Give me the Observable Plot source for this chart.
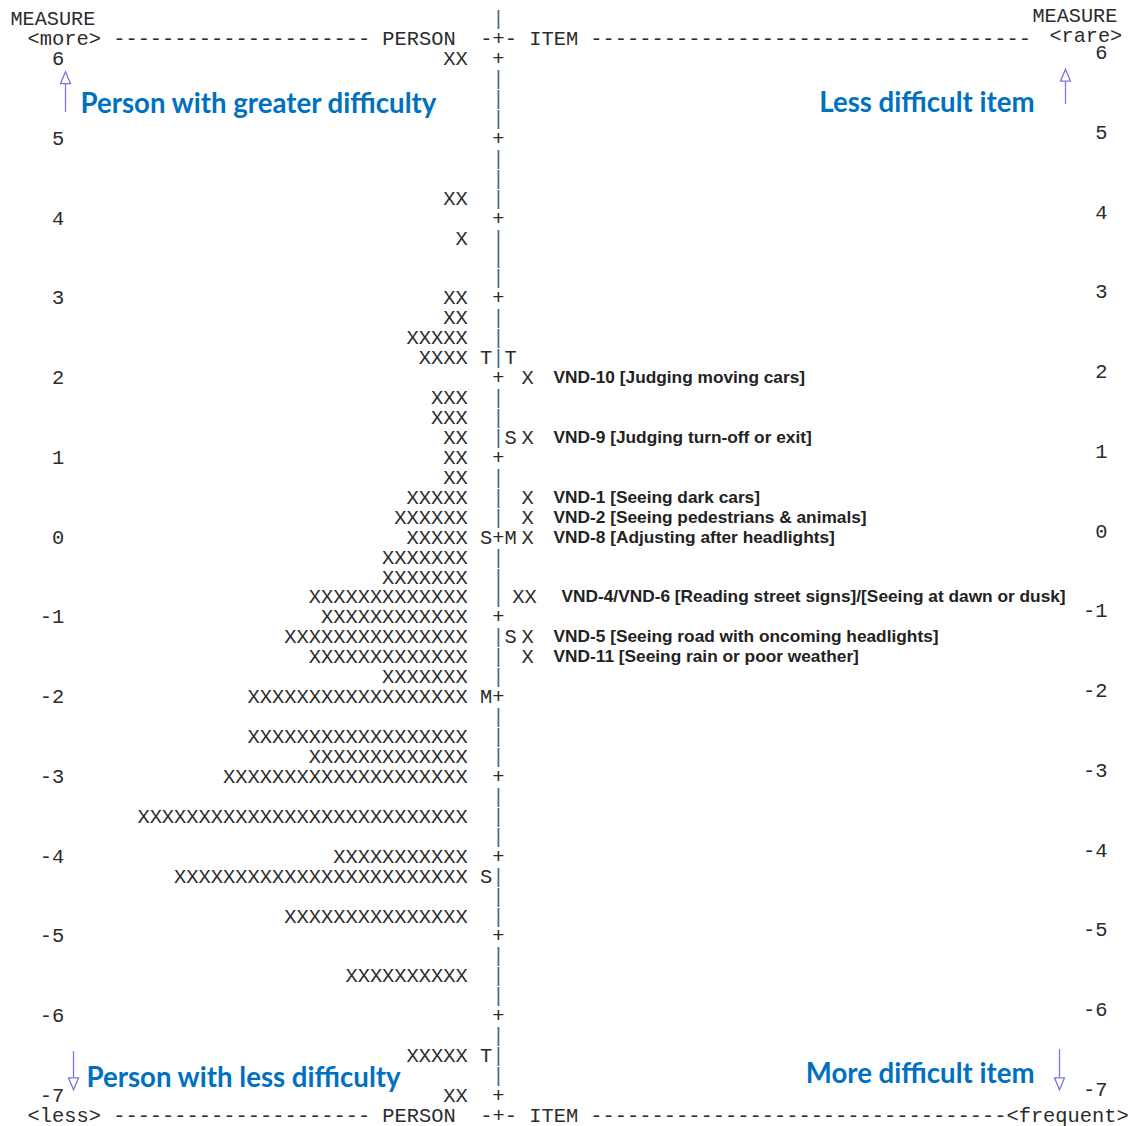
<!DOCTYPE html>
<html>
<head>
<meta charset="utf-8">
<script src="https://cdn.jsdelivr.net/npm/d3@7"></script>
<script src="https://cdn.jsdelivr.net/npm/@observablehq/plot@0.6"></script>
<style>
  body { margin: 0; background: #fff; }
</style>
</head>
<body>
<div id="chart"></div>
<script>
// Person distribution: measure (logits) of each row and number of persons (X) on it
const personMeasure = [6, 4.25, 3.75, 3, 2.75, 2.5, 2.25, 1.75, 1.5, 1.25, 1, 0.75, 0.5, 0.25, 0,
  -0.25, -0.5, -0.75, -1, -1.25, -1.5, -1.75, -2, -2.5, -2.75, -3, -3.5, -4, -4.25, -4.75, -5.5, -6.5, -7];
const personCount = [2, 2, 1, 2, 2, 5, 4, 3, 3, 2, 2, 2, 5, 6, 5,
  7, 7, 13, 12, 15, 13, 7, 18, 18, 13, 20, 27, 11, 24, 15, 10, 5, 2];

// Item difficulties
const itemMeasure = [2, 1.25, 0.5, 0.25, 0, -0.75, -1.25, -1.5];
const itemCount = [1, 1, 1, 1, 1, 2, 1, 1];
const itemLabel = [
  "VND-10 [Judging moving cars]",
  "VND-9 [Judging turn-off or exit]",
  "VND-1 [Seeing dark cars]",
  "VND-2 [Seeing pedestrians & animals]",
  "VND-8 [Adjusting after headlights]",
  "VND-4/VND-6 [Reading street signs]/[Seeing at dawn or dusk]",
  "VND-5 [Seeing road with oncoming headlights]",
  "VND-11 [Seeing rain or poor weather]"
];

// Mean (M), one (S) and two (T) standard deviation markers
const personStatMeasure = [2.25, 0, -2, -4.25, -6.5];
const personStatLabel = ["T", "S", "M", "S", "T"];
const itemStatMeasure = [2.25, 1.25, 0, -1.25];
const itemStatLabel = ["T", "S", "M", "S"];

// Measure tick labels
const tickValues = [6, 5, 4, 3, 2, 1, 0, -1, -2, -3, -4, -5, -6, -7];

const persons = personMeasure.map((m, i) => ({measure: m, n: personCount[i]}));
const items = itemMeasure.map((m, i) => ({measure: m, n: itemCount[i], label: itemLabel[i]}));
const personStats = personStatMeasure.map((m, i) => ({measure: m, label: personStatLabel[i]}));
const itemStats = itemStatMeasure.map((m, i) => ({measure: m, label: itemStatLabel[i]}));

// Text rows of the map from -7 to 6, a quarter logit apart; "+" on whole logits
const rows = d3.range(-28, 25).map(k => k / 4);

const MONO = "Liberation Mono, DejaVu Sans Mono, monospace";
const INK = "#2b2b2b";
const LINE = "#4a6a90";
const BLUE = "#0070C0";
const ARROW = "#7878dc";
const COL = 12.23;              // width of one monospace column
const X0 = 27;                  // left edge of column 0
const col = c => X0 + c * COL;  // left edge of a column
const axisX = col(38) + COL / 2;

// converts a vertical page position into the measure scale (for annotations)
const rowAt = p => 6 - (p - 58) / 80;

const headerLine = "<more> " + "-".repeat(21) + " PERSON  -+- ITEM " + "-".repeat(36);
const footerLine = "<less> " + "-".repeat(21) + " PERSON  -+- ITEM " + "-".repeat(34) + "<frequent>";

// narrow open triangle for arrow heads
const head = {
  draw(ctx, size) {
    const r = Math.sqrt(size / Math.PI);
    ctx.moveTo(0, -r * 1.4);
    ctx.lineTo(r, r);
    ctx.lineTo(-r, r);
    ctx.closePath();
  }
};

const arrows = [
  {x: 65, tip: 70, base: 84, end: 112, down: false},
  {x: 1065, tip: 68, base: 81, end: 104, down: false},
  {x: 73, tip: 1093, base: 1080, end: 1054, down: true},
  {x: 1059, tip: 1093, base: 1080, end: 1052, down: true}
];

const notesLeft = [
  {text: "Person with greater difficulty", x: 80, y: 104},
  {text: "Person with less difficulty", x: 86, y: 1081}
];
const notesRight = [
  {text: "Less difficult item", x: 1034, y: 103},
  {text: "More difficult item", x: 1034, y: 1077}
];

const noteStyle = {fontFamily: "Lato, Open Sans, sans-serif", fontWeight: "bold", fontSize: 27.6, fill: BLUE};
const mono = {fontFamily: MONO, fontSize: 20.4, fill: INK};

const chart = Plot.plot({
  width: 1135,
  height: 1126,
  marginTop: 58,
  marginBottom: 31,
  marginLeft: 0,
  marginRight: 0,
  x: {type: "identity", axis: null},
  y: {domain: [-7, 6], axis: null},
  style: {background: "#fff", overflow: "visible"},
  marks: [
    // header and footer of the map
    Plot.text(["MEASURE"], {x: 10, y: 6.5, text: d => d, textAnchor: "start", ...mono, fontSize: 20.2}),
    Plot.text([headerLine], {x: X0, y: 6.25, text: d => d, textAnchor: "start", ...mono}),
    Plot.text(["|"], {x: axisX, y: 6.5, text: d => d, ...mono, fill: LINE}),
    Plot.text(["MEASURE"], {x: 1032, y: 6.5, dy: -3, text: d => d, textAnchor: "start", ...mono, fontSize: 20.2}),
    Plot.text(["<rare>"], {x: 1049, y: 6.25, dy: -3, text: d => d, textAnchor: "start", ...mono, fontSize: 20.2}),
    Plot.text([footerLine], {x: X0, y: -7.25, text: d => d, textAnchor: "start", ...mono}),

    // measure tick labels on both sides
    Plot.text(tickValues, {x: col(3), y: d => d, text: d => String(d), textAnchor: "end", ...mono}),
    Plot.text(tickValues, {x: 1107, y: d => d, dy: -6, text: d => String(d), textAnchor: "end", ...mono}),

    // the vertical measure line
    Plot.text(rows, {x: axisX, y: d => d, text: d => Number.isInteger(d) ? "+" : "|", ...mono, fill: d => Number.isInteger(d) ? INK : LINE}),

    // persons: one X per person, right-aligned against the line
    Plot.text(persons, {x: col(36), y: "measure", text: d => "X".repeat(d.n), textAnchor: "end", ...mono}),

    // person and item summary markers
    Plot.text(personStats, {x: col(37) + COL / 2, y: "measure", text: "label", ...mono}),
    Plot.text(itemStats, {x: col(39) + COL / 2, y: "measure", text: "label", ...mono}),

    // items and their names
    Plot.text(items, {x: d => d.n > 1 ? 524 : 527, y: "measure", text: d => "X".repeat(d.n), ...mono}),
    Plot.text(items, {x: d => d.n > 1 ? 561 : 553, y: "measure", text: "label", textAnchor: "start", fontFamily: "Liberation Sans, Arial, sans-serif", fontWeight: "bold", fontSize: 17.3, fill: "#222"}),

    // direction notes with hollow arrows
    Plot.ruleX(arrows, {x: "x", y1: d => rowAt(d.base), y2: d => rowAt(d.end), stroke: ARROW, strokeWidth: 1.3}),
    Plot.dot(arrows, {x: "x", y: d => rowAt((d.tip + d.base) / 2 + (d.down ? -1.2 : 1.2)), symbol: head, r: 5, rotate: d => d.down ? 180 : 0, stroke: ARROW, strokeWidth: 1.3, fill: "#fff"}),
    Plot.text(notesLeft, {x: "x", y: d => rowAt(d.y), text: "text", textAnchor: "start", ...noteStyle}),
    Plot.text(notesRight, {x: "x", y: d => rowAt(d.y), text: "text", textAnchor: "end", ...noteStyle})
  ]
});

document.getElementById("chart").appendChild(chart);
</script>
</body>
</html>
